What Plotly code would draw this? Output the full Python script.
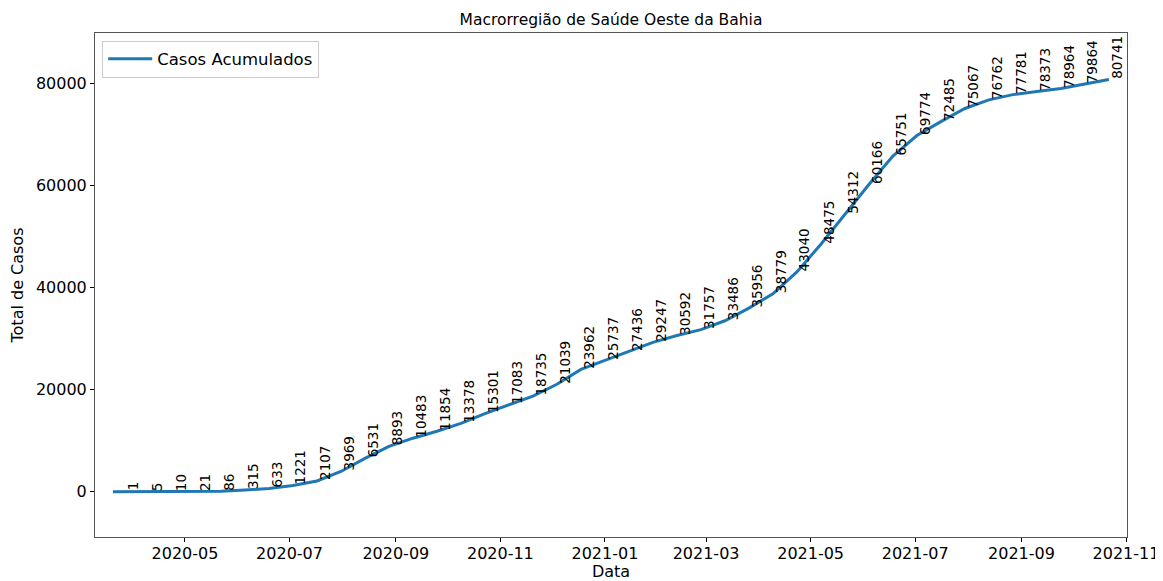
import plotly.graph_objects as go
import pandas as pd

# Data
start_date = ["2020-03-20"]
start_value = [1]

label_start = "2020-03-27"  # labelled points every 14 days
label_values = [1, 5, 10, 21, 86, 315, 633, 1221, 2107, 3969, 6531, 8893, 10483,
                11854, 13378, 15301, 17083, 18735, 21039, 23962, 25737, 27436,
                29247, 30592, 31757, 33486, 35956, 38779, 43040, 48475, 54312,
                60166, 65751, 69774, 72485, 75067, 76762, 77781, 78373, 78964,
                79864, 80741]
label_dates = list(pd.date_range(label_start, periods=len(label_values), freq="14D"))

tick_vals = ["2020-05-01", "2020-07-01", "2020-09-01", "2020-11-01", "2021-01-01",
             "2021-03-01", "2021-05-01", "2021-07-01", "2021-09-01", "2021-11-01"]
tick_text = ["2020-05", "2020-07", "2020-09", "2020-11", "2021-01",
             "2021-03", "2021-05", "2021-07", "2021-09", "2021-11"]
y_ticks = [0, 20000, 40000, 60000, 80000]

x_all = list(pd.to_datetime(start_date)) + label_dates
y_all = start_value + label_values

FONT = "DejaVu Sans"
W, H = 1155, 573  # page body has an 8px margin

fig = go.Figure()
fig.add_trace(go.Scatter(
    x=x_all, y=y_all, mode="lines", name="Casos Acumulados",
    line=dict(color="#1f77b4", width=3),
))

for d, v in zip(label_dates, label_values):
    fig.add_annotation(
        x=d, y=v, xref="x", yref="y", text=str(v), showarrow=False,
        textangle=-90, xanchor="left", yanchor="bottom",
        font=dict(family=FONT, size=13.5, color="black"),
        borderpad=0, xshift=-1,
    )

fig.update_layout(
    width=W, height=H,
    margin=dict(l=87, r=36, t=25, b=44, autoexpand=False),
    paper_bgcolor="white", plot_bgcolor="white",
    font=dict(family=FONT, size=16, color="black"),
    title=dict(text="Macrorregião de Saúde Oeste da Bahia", x=0.5, xref="paper",
               y=1 - 12 / H, yref="container", xanchor="center", yanchor="middle",
               font=dict(family=FONT, size=15.5, color="black")),
    showlegend=True,
    legend=dict(x=0.007, y=0.985, xanchor="left", yanchor="top",
                bgcolor="rgba(255,255,255,0.8)", bordercolor="#cccccc", borderwidth=1,
                itemwidth=44, tracegroupgap=0,
                font=dict(family=FONT, size=16.5, color="black")),
)

fig.update_xaxes(
    range=["2020-03-09 12:00", "2021-11-01 14:00"],
    tickmode="array", tickvals=tick_vals, ticktext=tick_text,
    ticks="outside", ticklen=4, tickcolor="black", tickwidth=1,
    ticklabelstandoff=-2,
    showline=True, linecolor="#555555", linewidth=1, mirror=True,
    showgrid=False, zeroline=False, automargin=False,
    tickfont=dict(family=FONT, size=16, color="black"),
    title=dict(text="Data", font=dict(family=FONT, size=16, color="black"), standoff=4),
)
fig.update_yaxes(
    range=[-8870, 89850],
    tickmode="array", tickvals=y_ticks, ticktext=[str(t) for t in y_ticks],
    ticks="outside", ticklen=4, tickcolor="black", tickwidth=1,
    showline=True, linecolor="#555555", linewidth=1, mirror=True,
    showgrid=False, zeroline=False, automargin=False,
    tickfont=dict(family=FONT, size=16, color="black"),
    title=dict(text="Total de Casos", font=dict(family=FONT, size=16, color="black"), standoff=8),
)

fig.write_html("out.html")
